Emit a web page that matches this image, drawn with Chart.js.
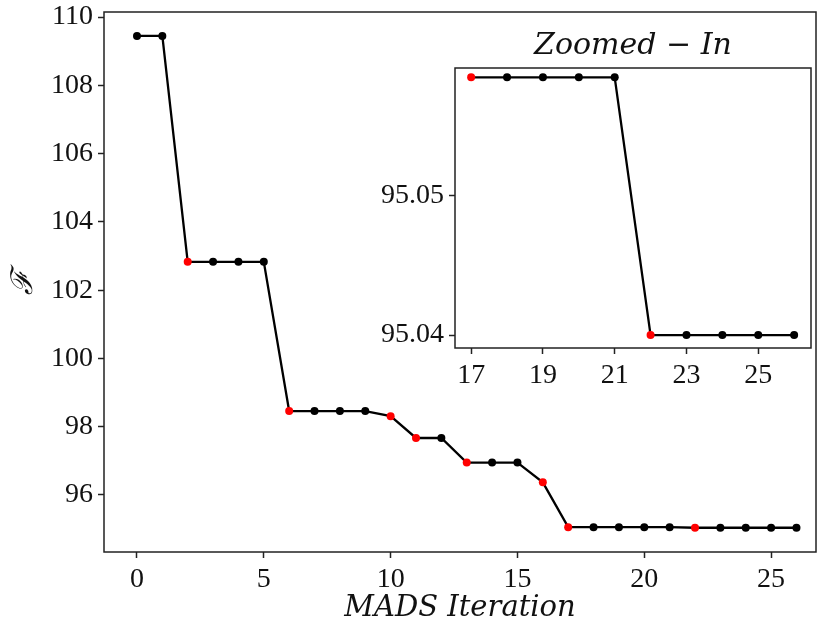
<!DOCTYPE html>
<html>
<head>
<meta charset="utf-8">
<script src="https://cdn.jsdelivr.net/npm/chart.js@4"></script>
<style>
  body { margin: 0; background: #fff; overflow: hidden; }
  #wrap { position: relative; width: 817px; height: 626px; overflow: hidden; }
  #mainChart { position: absolute; left: 0; top: 0; }
  #insetChart { position: absolute; left: 360px; top: 20px; }
</style>
</head>
<body>
<div id="wrap">
  <canvas id="mainChart" width="817" height="626"></canvas>
  <canvas id="insetChart" width="457" height="370"></canvas>
</div>
<script>
// iteration number and objective value
const iterations = [0, 1, 2, 3, 4, 5, 6, 7, 8, 9, 10, 11, 12, 13, 14, 15, 16, 17, 18, 19, 20, 21, 22, 23, 24, 25, 26];
const fValues = [109.45, 109.45, 102.83, 102.83, 102.83, 102.83, 98.46, 98.46, 98.46, 98.46, 98.31, 97.67, 97.67,
                 96.95, 96.95, 96.95, 96.37, 95.0585, 95.0585, 95.0585, 95.0585, 95.0585, 95.04, 95.04, 95.04, 95.04, 95.04];
// iterations where an improvement was found (red dots)
const improved = [2, 6, 10, 11, 13, 16, 17, 22];

const mainXTicks = [0, 5, 10, 15, 20, 25];
const mainYTicks = [96, 98, 100, 102, 104, 106, 108, 110];
const insetStart = 17;
const insetXTicks = [17, 19, 21, 23, 25];
const insetYTicks = [95.04, 95.05];

const serif = "'Liberation Serif', 'DejaVu Serif', serif";
const mathFont = "'DejaVu Serif', serif";
const axisColor = '#222';

function points(from) {
    const pts = [];
    for (let i = 0; i < iterations.length; i++) {
        if (iterations[i] >= from) pts.push({ x: iterations[i], y: fValues[i] });
    }
    return pts;
}
function dotColors(from) {
    return iterations.filter(it => it >= from).map(it => improved.includes(it) ? '#ff0000' : '#000000');
}

// draws the box round the plot area (matplotlib spines)
const frame = {
    id: 'frame',
    beforeDraw(chart, args, opts) {
        if (opts.fill) {
            const a = chart.chartArea;
            chart.ctx.save();
            chart.ctx.fillStyle = '#fff';
            chart.ctx.fillRect(a.left, a.top, a.right - a.left, a.bottom - a.top);
            chart.ctx.restore();
        }
    },
    afterDraw(chart) {
        const a = chart.chartArea;
        const ctx = chart.ctx;
        ctx.save();
        ctx.strokeStyle = axisColor;
        ctx.lineWidth = 1.5;
        ctx.strokeRect(a.left, a.top, a.right - a.left, a.bottom - a.top);
        ctx.restore();
    }
};

function noLabelPadding(axis) {
    axis.paddingTop = 0;
    axis.paddingBottom = 0;
    axis.paddingLeft = 0;
    axis.paddingRight = 0;
}

function tickScale(tickList, extra) {
    return Object.assign({
        type: 'linear',
        afterBuildTicks: axis => { axis.ticks = tickList.map(v => ({ value: v })); },
        border: { display: false },
        grid: { display: true, drawOnChartArea: false, drawTicks: true, tickLength: 6, color: axisColor, tickWidth: 1.5 },
        ticks: { color: '#111', font: { family: serif, size: 28 }, padding: 5, autoSkip: false, maxRotation: 0 }
    }, extra);
}

// main chart
const xMain = tickScale(mainXTicks, { min: -1.3, max: 26.77 });
xMain.afterFit = axis => { axis.height = 74; noLabelPadding(axis); };
xMain.title = { display: true, text: 'MADS Iteration', color: '#111', font: { family: mathFont, size: 29, style: 'italic' }, padding: { top: 8, bottom: 0 } };
const yMain = tickScale(mainYTicks, { min: 94.33, max: 110.15 });
yMain.afterFit = axis => { axis.width = 104; noLabelPadding(axis); };
yMain.ticks.callback = v => String(v);
yMain.title = { display: true, text: 'ℱ', color: '#111', font: { family: serif, size: 30, style: 'italic' }, padding: { top: 6, bottom: 0 } };

new Chart(document.getElementById('mainChart').getContext('2d'), {
    type: 'line',
    data: {
        datasets: [{
            data: points(0),
            borderColor: '#000',
            borderWidth: 2.3,
            pointBackgroundColor: dotColors(0),
            pointBorderColor: dotColors(0),
            pointBorderWidth: 0,
            pointRadius: 4,
            tension: 0
        }]
    },
    options: {
        responsive: false,
        animation: false,
        layout: { autoPadding: false, padding: { top: 12, right: 1, left: 0, bottom: 0 } },
        plugins: { legend: { display: false }, tooltip: { enabled: false }, frame: {} },
        scales: { x: xMain, y: yMain }
    },
    plugins: [frame]
});

// inset chart
const xInset = tickScale(insetXTicks, { min: 16.55, max: 26.47 });
xInset.afterFit = axis => { axis.height = 42; noLabelPadding(axis); };
const yInset = tickScale(insetYTicks, { min: 95.03907, max: 95.05917 });
yInset.afterFit = axis => { axis.width = 95; noLabelPadding(axis); };
yInset.ticks.callback = v => v.toFixed(2);

new Chart(document.getElementById('insetChart').getContext('2d'), {
    type: 'line',
    data: {
        datasets: [{
            data: points(insetStart),
            borderColor: '#000',
            borderWidth: 2.3,
            pointBackgroundColor: dotColors(insetStart),
            pointBorderColor: dotColors(insetStart),
            pointBorderWidth: 0,
            pointRadius: 4,
            tension: 0
        }]
    },
    options: {
        responsive: false,
        animation: false,
        layout: { autoPadding: false, padding: { top: 0, right: 6, left: 0, bottom: 0 } },
        plugins: {
            legend: { display: false },
            tooltip: { enabled: false },
            title: {
                display: true,
                fullSize: false,
                text: 'Zoomed − In',
                color: '#111',
                font: { family: mathFont, size: 30, style: 'italic', weight: 'normal', lineHeight: 1.1 },
                padding: { top: 10, bottom: 5 }
            },
            frame: { fill: true }
        },
        scales: { x: xInset, y: yInset }
    },
    plugins: [frame]
});
</script>
</body>
</html>
